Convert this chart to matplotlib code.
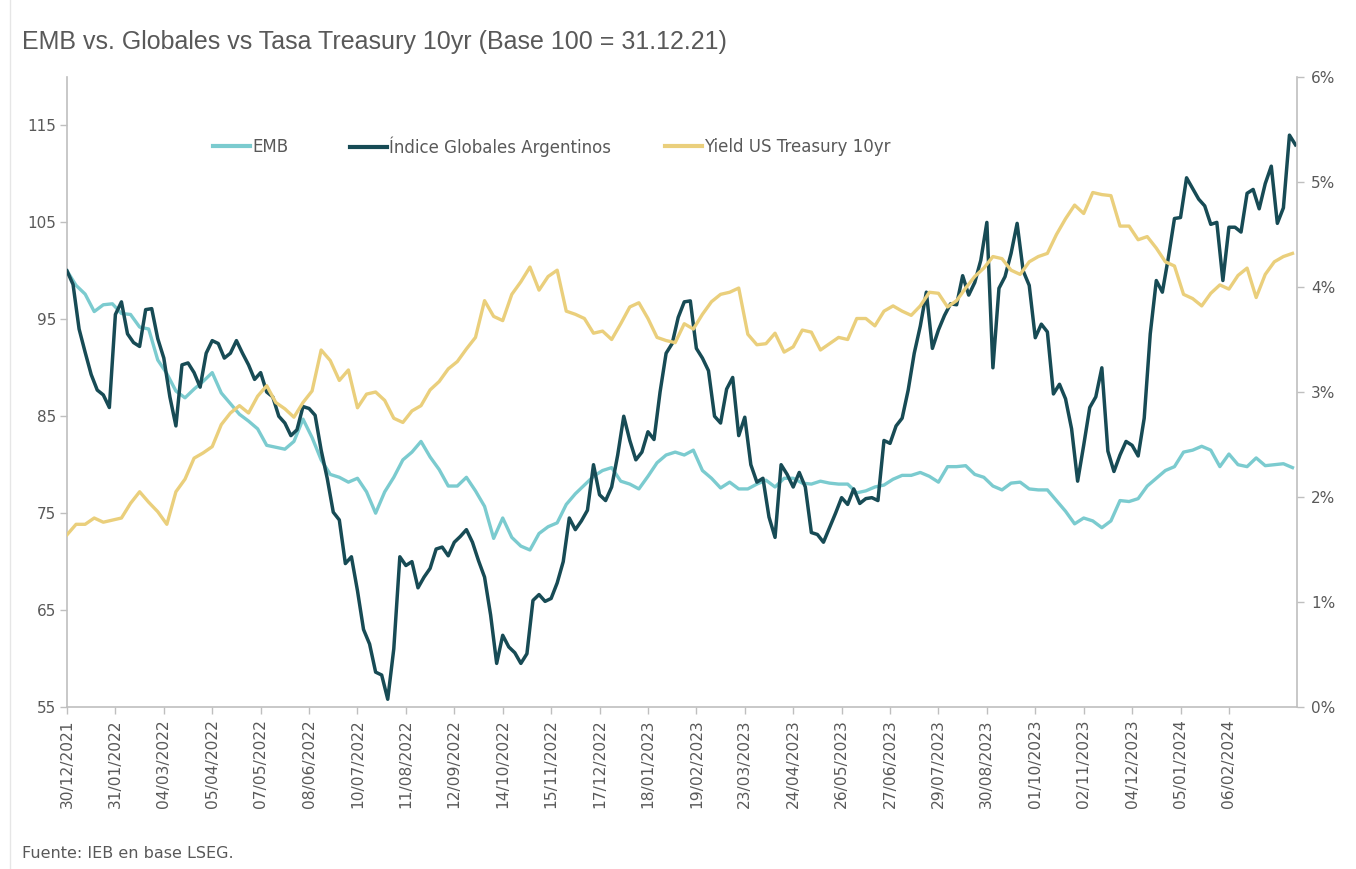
import matplotlib
matplotlib.use("Agg")
import matplotlib.pyplot as plt
import matplotlib.dates as mdates
from matplotlib.lines import Line2D
from matplotlib.legend import Legend
from matplotlib.ticker import FuncFormatter, FixedLocator
import pandas as pd

# ---------------- data ----------------
start_date = "2021-12-30"

# Índice Globales Argentinos, base 100, sampled every 4 days
globales = [
    100, 98.6, 94.0, 91.6, 89.3, 87.7, 87.2, 85.9, 95.5, 96.8,
    93.5, 92.6, 92.2, 96.0, 96.1, 93.0, 91.0, 87.0, 84.0, 90.3,
    90.5, 89.5, 88.0, 91.5, 92.8, 92.5, 91.0, 91.5, 92.8, 91.5,
    90.3, 88.8, 89.5, 87.5, 87.0, 85.0, 84.3, 83.0, 83.6, 86.0,
    85.8, 85.1, 81.5, 78.6, 75.1, 74.3, 69.8, 70.5, 67.0, 63.0,
    61.5, 58.6, 58.3, 55.8, 61.0, 70.5, 69.6, 70.0, 67.3, 68.4,
    69.3, 71.3, 71.5, 70.6, 72.0, 72.6, 73.3, 72.0, 70.1, 68.4,
    64.5, 59.5, 62.4, 61.2, 60.6, 59.5, 60.5, 66.0, 66.6, 65.9,
    66.2, 67.8, 70.0, 74.5, 73.3, 74.2, 75.3, 80.0, 76.9, 76.3,
    77.7, 81.0, 85.0, 82.5, 80.5, 81.3, 83.4, 82.6, 87.5, 91.5,
    92.5, 95.2, 96.8, 96.9, 92.0, 91.0, 89.7, 85.0, 84.3, 87.8,
    89.0, 83.0, 84.9, 80.0, 78.2, 78.6, 74.6, 72.5, 80.0, 79.0,
    77.7, 79.2, 77.7, 73.0, 72.8, 72.0, 73.5, 75.0, 76.6, 75.9,
    77.5, 76.0, 76.5, 76.6, 76.3, 82.5, 82.2, 84.0, 84.8, 87.7,
    91.5, 94.3, 97.8, 92.0, 93.9, 95.4, 96.6, 96.5, 99.5, 97.5,
    98.8, 101.1, 105.0, 90.0, 98.2, 99.4, 101.8, 104.9, 100.0, 98.5,
    93.1, 94.5, 93.7, 87.3, 88.3, 86.8, 83.7, 78.3, 82.0, 85.9,
    87.0, 90.0, 81.4, 79.3, 81.0, 82.4, 82.0, 80.9, 84.8, 93.5,
    99.0, 97.8, 101.4, 105.4, 105.5, 109.6, 108.5, 107.4, 106.7, 104.8,
    105.0, 99.0, 104.5, 104.5, 104.0, 108.0, 108.4, 106.4, 109.0, 110.8,
    104.9, 106.5, 114.0, 113.0,
]

# EMB, base 100, sampled every 6 days
emb = [
    100, 98.5, 97.6, 95.8, 96.5, 96.6, 95.6, 95.5, 94.2, 94.0,
    90.8, 89.4, 87.6, 86.9, 87.8, 88.6, 89.5, 87.4, 86.3, 85.2,
    84.5, 83.7, 82.0, 81.8, 81.6, 82.4, 84.7, 82.8, 80.5, 79.0,
    78.7, 78.2, 78.6, 77.2, 75.0, 77.2, 78.7, 80.5, 81.3, 82.4,
    80.8, 79.5, 77.8, 77.8, 78.7, 77.3, 75.7, 72.4, 74.5, 72.5,
    71.6, 71.2, 72.9, 73.6, 74.0, 75.9, 77.0, 77.9, 78.8, 79.4,
    79.7, 78.3, 78.0, 77.5, 78.8, 80.2, 81.0, 81.3, 81.0, 81.5,
    79.4, 78.6, 77.6, 78.2, 77.5, 77.5, 78.0, 78.4, 77.7, 78.6,
    78.6, 78.1, 78.0, 78.3, 78.1, 78.0, 78.0, 77.1, 77.3, 77.7,
    77.9, 78.5, 78.9, 78.9, 79.2, 78.8, 78.2, 79.8, 79.8, 79.9,
    79.0, 78.7, 77.8, 77.4, 78.1, 78.2, 77.5, 77.4, 77.4, 76.3,
    75.2, 73.9, 74.5, 74.2, 73.5, 74.2, 76.3, 76.2, 76.5, 77.8,
    78.6, 79.4, 79.8, 81.3, 81.5, 81.9, 81.5, 79.8, 81.1, 80.0,
    79.8, 80.7, 79.9, 80.0, 80.1, 79.7,
]

# Yield US Treasury 10yr (%), sampled every 6 days
treasury = [
    1.64, 1.74, 1.74, 1.80, 1.76, 1.78, 1.80, 1.94, 2.05, 1.95,
    1.86, 1.74, 2.05, 2.17, 2.37, 2.42, 2.48, 2.69, 2.80, 2.87,
    2.80, 2.96, 3.06, 2.90, 2.84, 2.76, 2.90, 3.01, 3.40, 3.30,
    3.11, 3.21, 2.85, 2.98, 3.00, 2.92, 2.75, 2.71, 2.82, 2.87,
    3.02, 3.10, 3.22, 3.29, 3.41, 3.52, 3.87, 3.72, 3.68, 3.93,
    4.05, 4.19, 3.97, 4.10, 4.16, 3.77, 3.74, 3.70, 3.56, 3.58,
    3.50, 3.65, 3.81, 3.85, 3.70, 3.52, 3.49, 3.47, 3.65, 3.60,
    3.74, 3.86, 3.93, 3.95, 3.99, 3.55, 3.45, 3.46, 3.56, 3.38,
    3.43, 3.59, 3.57, 3.40, 3.46, 3.52, 3.50, 3.70, 3.70, 3.63,
    3.77, 3.82, 3.77, 3.73, 3.82, 3.95, 3.94, 3.81, 3.87, 3.99,
    4.10, 4.18, 4.29, 4.27, 4.16, 4.12, 4.24, 4.29, 4.32, 4.50,
    4.65, 4.78, 4.70, 4.90, 4.88, 4.87, 4.58, 4.58, 4.45, 4.48,
    4.37, 4.24, 4.20, 3.93, 3.89, 3.82, 3.94, 4.02, 3.98, 4.11,
    4.18, 3.90, 4.12, 4.24, 4.29, 4.32,
]

series_names = ["EMB", "Índice Globales Argentinos", "Yield US Treasury 10yr"]
title_text = "EMB vs. Globales vs Tasa Treasury 10yr (Base 100 = 31.12.21)"
source_text = "Fuente: IEB en base LSEG."
left_ticks = [55, 65, 75, 85, 95, 105, 115]
right_ticks = [0, 1, 2, 3, 4, 5, 6]

# ---------------- styling ----------------
c_emb = "#7BCBCF"
c_glob = "#174B55"
c_tsy = "#EACF7C"
c_text = "#595959"
c_axis = "#BFBFBF"

plt.rcParams["font.family"] = ["DejaVu Sans"]

d_glob = pd.date_range(start_date, periods=len(globales), freq="4D")
d_emb = pd.date_range(start_date, periods=len(emb), freq="6D")
d_tsy = pd.date_range(start_date, periods=len(treasury), freq="6D")

fig = plt.figure(figsize=(13.56, 8.69), dpi=100)
ax = fig.add_axes([0.0494, 0.1864, 0.9071, 0.7250])
ax2 = ax.twinx()

ax.plot(d_emb, emb, color=c_emb, lw=2.4, zorder=2, solid_joinstyle="round")
ax.plot(d_glob, globales, color=c_glob, lw=2.5, zorder=3, solid_joinstyle="round")
ax2.plot(d_tsy, treasury, color=c_tsy, lw=2.4, solid_joinstyle="round")

x0 = pd.Timestamp(start_date)
ax.set_xlim(x0, x0 + pd.Timedelta(days=813))
ax.set_ylim(55, 120)
ax2.set_ylim(0, 6)

xt = pd.date_range(start_date, "2024-02-06", freq="32D")
ax.xaxis.set_major_locator(FixedLocator(mdates.date2num(xt)))
ax.xaxis.set_major_formatter(mdates.DateFormatter("%d/%m/%Y"))
ax.set_yticks(left_ticks)
ax2.set_yticks(right_ticks)
ax2.yaxis.set_major_formatter(FuncFormatter(lambda v, p: f"{v:.0f}%"))

for a in (ax, ax2):
    a.spines["top"].set_visible(False)
    for s in ("left", "right", "bottom"):
        a.spines[s].set_color(c_axis)
        a.spines[s].set_linewidth(1.2)
ax.spines["right"].set_visible(False)
ax2.spines["left"].set_visible(False)
ax2.spines["bottom"].set_visible(False)

ax.tick_params(axis="x", labelrotation=90, labelsize=11.2, colors=c_text,
               color=c_axis, length=5, width=1, pad=4)
ax.tick_params(axis="y", labelsize=11, colors=c_text, color=c_axis,
               length=5, width=1, pad=3)
ax2.tick_params(axis="y", labelsize=11, colors=c_text, color=c_axis,
                length=5, width=1, pad=5)

# legend: one entry per block, placed like the reference
leg_x = [0.1187, 0.2301, 0.4862]
for name, col, lx in zip(series_names, (c_emb, c_glob, c_tsy), leg_x):
    lg = Legend(ax2, [Line2D([], [], color=col, lw=3)], [name], loc="center left",
                bbox_to_anchor=(lx, 0.889), frameon=False, fontsize=12.0,
                handlelength=2.2, handletextpad=0.15, borderpad=0,
                borderaxespad=0)
    lg.get_texts()[0].set_color(c_text)
    ax2.add_artist(lg)

fig.text(22 / 1356, 1 - 42 / 869, title_text, fontsize=18, color=c_text,
         va="center", ha="left", family=["Liberation Sans", "DejaVu Sans"])
fig.text(22 / 1356, 1 - 853 / 869, source_text, fontsize=11.5, color=c_text,
         va="center", ha="left")
fig.add_artist(Line2D([10 / 1356, 10 / 1356], [0, 1], color="#E6E6E6", lw=1,
                      transform=fig.transFigure))

fig.savefig("out.png", dpi=100, facecolor="white")
